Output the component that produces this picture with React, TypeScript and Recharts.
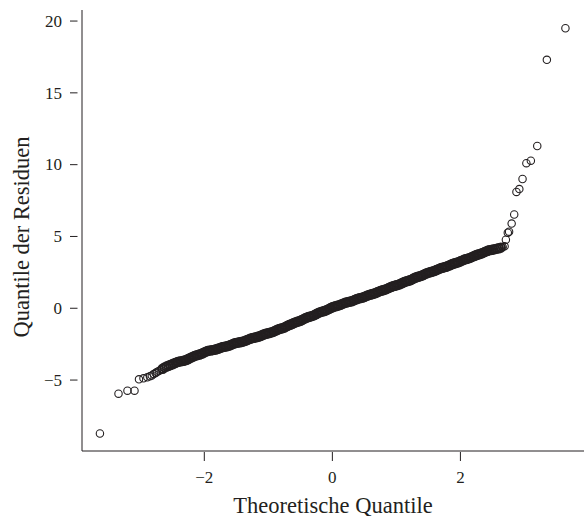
import React from 'react';
import { ScatterChart, Scatter, XAxis, YAxis, Label } from 'recharts';

// theoretische Quantile / Residuen
const lowerTail: [number, number][] = [
  [-3.63, -8.72], [-3.34, -5.95], [-3.2, -5.74], [-3.09, -5.74],
  [-3.02, -4.95], [-2.95, -4.88], [-2.89, -4.81], [-2.85, -4.74],
  [-2.82, -4.68], [-2.79, -4.58], [-2.76, -4.5], [-2.74, -4.44],
  [-2.71, -4.37], [-2.68, -4.3],
];

const bandLeft: [number, number][] = [
  [-2.65, -4.21], [-2.62, -4.12],
  [-2.59, -4.06], [-2.56, -4.0], [-2.53, -3.95], [-2.5, -3.9],
  [-2.475, -3.85], [-2.45, -3.8], [-2.425, -3.75], [-2.4, -3.72], [-2.375, -3.7],
  [-2.35, -3.68], [-2.325, -3.66], [-2.3, -3.63], [-2.275, -3.59], [-2.25, -3.53],
  [-2.225, -3.47], [-2.2, -3.42], [-2.175, -3.37], [-2.15, -3.32], [-2.125, -3.28],
  [-2.1, -3.25], [-2.075, -3.22], [-2.05, -3.18], [-2.025, -3.13], [-2.0, -3.07],
  [-1.975, -3.02], [-1.95, -2.98], [-1.925, -2.95], [-1.9, -2.93], [-1.875, -2.92],
  [-1.85, -2.9], [-1.825, -2.87], [-1.8, -2.84], [-1.775, -2.8], [-1.75, -2.76],
  [-1.725, -2.72], [-1.7, -2.69], [-1.675, -2.67], [-1.65, -2.65], [-1.625, -2.62],
  [-1.6, -2.58], [-1.575, -2.53], [-1.55, -2.48], [-1.525, -2.44], [-1.5, -2.41],
  [-1.475, -2.39], [-1.45, -2.37], [-1.425, -2.35], [-1.4, -2.32], [-1.375, -2.29],
  [-1.35, -2.25], [-1.325, -2.2], [-1.3, -2.15], [-1.275, -2.11], [-1.25, -2.08],
  [-1.225, -2.05], [-1.2, -2.03], [-1.175, -2.0], [-1.15, -1.97], [-1.125, -1.93],
  [-1.1, -1.88], [-1.075, -1.83], [-1.05, -1.79], [-1.025, -1.76], [-1.0, -1.74],
  [-0.975, -1.71], [-0.95, -1.68], [-0.925, -1.64], [-0.9, -1.59], [-0.875, -1.53],
  [-0.85, -1.48], [-0.825, -1.44], [-0.8, -1.41], [-0.775, -1.38], [-0.75, -1.34],
  [-0.725, -1.28], [-0.7, -1.22], [-0.675, -1.17], [-0.65, -1.13], [-0.625, -1.08],
  [-0.6, -1.03], [-0.575, -0.98], [-0.55, -0.94], [-0.525, -0.91], [-0.5, -0.87],
  [-0.475, -0.82], [-0.45, -0.76], [-0.425, -0.7], [-0.4, -0.65], [-0.375, -0.61],
  [-0.35, -0.58], [-0.325, -0.55], [-0.3, -0.51], [-0.275, -0.46], [-0.25, -0.4],
  [-0.225, -0.34], [-0.2, -0.29], [-0.175, -0.25], [-0.15, -0.22], [-0.125, -0.19],
  [-0.1, -0.15], [-0.075, -0.1], [-0.05, -0.04], [-0.025, 0.02],
];

const bandRight: [number, number][] = [
  [0.0, 0.07], [0.025, 0.11], [0.05, 0.14], [0.075, 0.17], [0.1, 0.2],
  [0.125, 0.24], [0.15, 0.29], [0.175, 0.34], [0.2, 0.38], [0.225, 0.41],
  [0.25, 0.44], [0.275, 0.46], [0.3, 0.49], [0.325, 0.53], [0.35, 0.58],
  [0.375, 0.63], [0.4, 0.67], [0.425, 0.7], [0.45, 0.72], [0.475, 0.75],
  [0.5, 0.79], [0.525, 0.84], [0.55, 0.89], [0.575, 0.93], [0.6, 0.96],
  [0.625, 0.99], [0.65, 1.02], [0.675, 1.06], [0.7, 1.11], [0.725, 1.16],
  [0.75, 1.21], [0.775, 1.24], [0.8, 1.27], [0.825, 1.3], [0.85, 1.35],
  [0.875, 1.4], [0.9, 1.45], [0.925, 1.5], [0.95, 1.54], [0.975, 1.57],
  [1.0, 1.6], [1.025, 1.63], [1.05, 1.67], [1.075, 1.72], [1.1, 1.78],
  [1.125, 1.83], [1.15, 1.87], [1.175, 1.9], [1.2, 1.93], [1.225, 1.97],
  [1.25, 2.03], [1.275, 2.09], [1.3, 2.14], [1.325, 2.18], [1.35, 2.21],
  [1.375, 2.24], [1.4, 2.28], [1.425, 2.33], [1.45, 2.39], [1.475, 2.44],
  [1.5, 2.48], [1.525, 2.51], [1.55, 2.54], [1.575, 2.57], [1.6, 2.61],
  [1.625, 2.66], [1.65, 2.71], [1.675, 2.76], [1.7, 2.8], [1.725, 2.83],
  [1.75, 2.86], [1.775, 2.89], [1.8, 2.93], [1.825, 2.98], [1.85, 3.03],
  [1.875, 3.08], [1.9, 3.12], [1.925, 3.15], [1.95, 3.18], [1.975, 3.22],
  [2.0, 3.27], [2.025, 3.32], [2.05, 3.37], [2.075, 3.41], [2.1, 3.44],
  [2.125, 3.47], [2.15, 3.51], [2.175, 3.56], [2.2, 3.61], [2.225, 3.66],
  [2.25, 3.71], [2.275, 3.74], [2.3, 3.77], [2.325, 3.81], [2.35, 3.86],
  [2.375, 3.91], [2.4, 3.96], [2.425, 4.0], [2.45, 4.04], [2.48, 4.06],
  [2.51, 4.09], [2.54, 4.12], [2.57, 4.15], [2.6, 4.18], [2.63, 4.22],
];

const upperTail: [number, number][] = [
  [2.66, 4.26], [2.69, 4.31],
  [2.71, 4.77], [2.74, 5.26], [2.76, 5.33], [2.8, 5.9], [2.84, 6.53],
  [2.875, 8.1], [2.92, 8.3], [2.97, 9.0], [3.03, 10.1], [3.1, 10.28],
  [3.2, 11.3], [3.35, 17.3], [3.64, 19.5],
];

const xTicks = [-2, 0, 2];
const yTicks = [-5, 0, 5, 10, 15, 20];

const toPoints = (rows: [number, number][]) => rows.map(([x, y]) => ({ x, y }));
const tailPoints = toPoints([...lowerTail, ...upperTail]);
const bandPoints = toPoints([...bandLeft, ...bandRight]);

const ink = '#231f20';
const font = '"Liberation Serif", "Times New Roman", serif';
const fmt = (v: number) => String(v).replace('-', '\u2212');

const Ring = (props: any) => (
  <circle cx={props.cx} cy={props.cy} r={3.7} fill="none" stroke={ink} strokeWidth={1.1} />
);

// dicht gepackte Punkte im Mittelteil: dickerer Rand, damit das Band geschlossen wirkt
const DenseRing = (props: any) => (
  <circle cx={props.cx} cy={props.cy} r={4.2} fill="none" stroke={ink} strokeWidth={2} />
);

const XTick = ({ x, y, payload }: any) => (
  <g>
    <line x1={x} x2={x} y1={y + 1} y2={y + 10} stroke={ink} />
    <text x={x} y={y + 32} textAnchor="middle" fontFamily={font} fontSize={17} fill={ink}>
      {fmt(payload.value)}
    </text>
  </g>
);

const YTick = ({ x, y, payload }: any) => (
  <g>
    <line x1={x - 12} x2={x - 4.5} y1={y} y2={y} stroke={ink} />
    <text x={x - 20} y={y + 5.7} textAnchor="end" fontFamily={font} fontSize={17} fill={ink}>
      {fmt(payload.value)}
    </text>
  </g>
);

export default function App() {
  return (
    <div style={{ position: 'absolute', left: 0, top: 0, background: '#fff' }}>
      <ScatterChart width={584} height={516} margin={{ top: 10, right: 0, bottom: 0, left: 10 }}>
        <XAxis
          type="number"
          dataKey="x"
          domain={[-3.91, 3.93]}
          allowDataOverflow
          ticks={xTicks}
          interval={0}
          height={65}
          tickSize={0}
          tickMargin={0}
          tickLine={false}
          axisLine={{ stroke: ink }}
          tick={<XTick />}
        >
          <Label
            content={() => (
              <text x={333} y={513} textAnchor="middle" fontFamily={font} fontSize={22.5} fill={ink}>
                Theoretische Quantile
              </text>
            )}
          />
        </XAxis>
        <YAxis
          type="number"
          dataKey="y"
          domain={[-9.94, 20.77]}
          allowDataOverflow
          ticks={yTicks}
          interval={0}
          width={72}
          tickSize={0}
          tickMargin={0}
          tickLine={false}
          axisLine={{ stroke: ink }}
          tick={<YTick />}
        >
          <Label
            content={() => (
              <text
                x={29}
                y={237}
                transform="rotate(-90 29 237)"
                textAnchor="middle"
                fontFamily={font}
                fontSize={22.5}
                fill={ink}
              >
                Quantile der Residuen
              </text>
            )}
          />
        </YAxis>
        <Scatter data={bandPoints} shape={<DenseRing />} isAnimationActive={false} />
        <Scatter data={tailPoints} shape={<Ring />} isAnimationActive={false} />
      </ScatterChart>
    </div>
  );
}
